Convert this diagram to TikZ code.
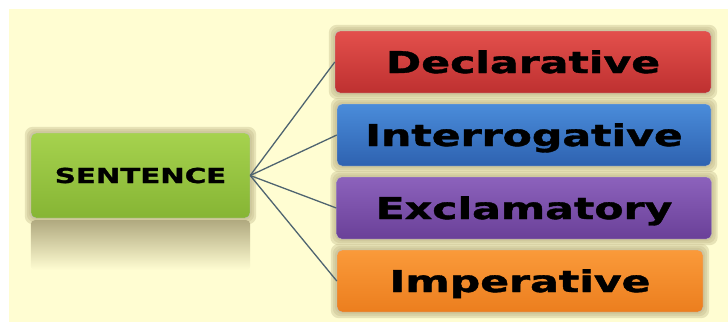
\documentclass[tikz,border=0pt]{standalone}
\usepackage{fontspec}
\setmainfont{DejaVu Sans}
\newfontfamily\heavyfont{DejaVu Sans Bold}[FakeBold=1.2]
\usetikzlibrary{backgrounds}
\pgfdeclarelayer{bglayer}
\pgfdeclarelayer{glowlayer}
\pgfsetlayers{bglayer,glowlayer,main}
\definecolor{bgyellow}{HTML}{FFFDD2}
\definecolor{glowtan}{HTML}{C4BC8E}
\definecolor{linkcol}{HTML}{4F6470}
\definecolor{redT}{HTML}{E3504C}\definecolor{redB}{HTML}{BE3030}
\definecolor{bluT}{HTML}{4A8CDA}\definecolor{bluB}{HTML}{2E62B0}
\definecolor{purT}{HTML}{8C62BC}\definecolor{purB}{HTML}{6A4098}
\definecolor{oraT}{HTML}{FA9A3A}\definecolor{oraB}{HTML}{EC7E1E}
\definecolor{grnT}{HTML}{A6D24E}\definecolor{grnB}{HTML}{86B534}
\tikzset{
  typebox/.style={rounded corners=5pt, inner sep=0pt, minimum height=62pt,
    draw=black!25, line width=0.4pt,
    text height=22pt, text depth=0pt,
    font=\fontsize{30}{36}\heavyfont},
  rootbox/.style={rounded corners=5pt, inner sep=0pt, minimum width=219pt, minimum height=85pt,
    draw=black!25, line width=0.4pt, top color=grnT, bottom color=grnB,
    text height=15pt, text depth=0pt,
    font=\fontsize{20.6}{24}\heavyfont},
  link/.style={draw=linkcol, line width=1.3pt},
  glowA/.style={fill=glowtan, opacity=0.4, rounded corners=8pt},
}
\newcommand{\wide}[1]{\scalebox{1.42}[1]{#1}}
\begin{document}
\begin{tikzpicture}[x=1pt,y=-1pt]
\useasboundingbox (0,0) rectangle (728,322);
\begin{pgfonlayer}{bglayer}
  \fill[white] (0,0) rectangle (728,322);
  \fill[bgyellow] (9,9) rectangle (728,322);
\end{pgfonlayer}

\node[rootbox] (root) at (140.5,175.5) {\wide{SENTENCE}};
\node[typebox, minimum width=376pt, top color=redT, bottom color=redB] (decl) at (523,62) {\wide{Declarative}};
\node[typebox, minimum width=374pt, top color=bluT, bottom color=bluB] (inter) at (524,135) {\wide{Interrogative}};
\node[typebox, minimum width=375pt, top color=purT, bottom color=purB] (excl) at (524,208) {\wide{Exclamatory}};
\node[typebox, minimum width=366pt, top color=oraT, bottom color=oraB] (imper) at (520,281) {\wide{Imperative}};

\begin{pgfonlayer}{glowlayer}
  \foreach \n in {root,decl,inter,excl,imper}{
    \foreach \s in {2,4,6}{
      \path[glowA] ([xshift=-\s pt,yshift=-\s pt]\n.south west) rectangle ([xshift=\s pt,yshift=\s pt]\n.north east);
    }
  }
  \shade[top color=glowtan!90!black, bottom color=bgyellow, rounded corners=4pt]
    ([yshift=-2pt]root.south west) rectangle ([yshift=-52pt]root.south east);
\end{pgfonlayer}

\draw[link] (root.east) -- (decl.west);
\draw[link] (root.east) -- (inter.west);
\draw[link] (root.east) -- (excl.west);
\draw[link] (root.east) -- (imper.west);
\end{tikzpicture}
\end{document}
